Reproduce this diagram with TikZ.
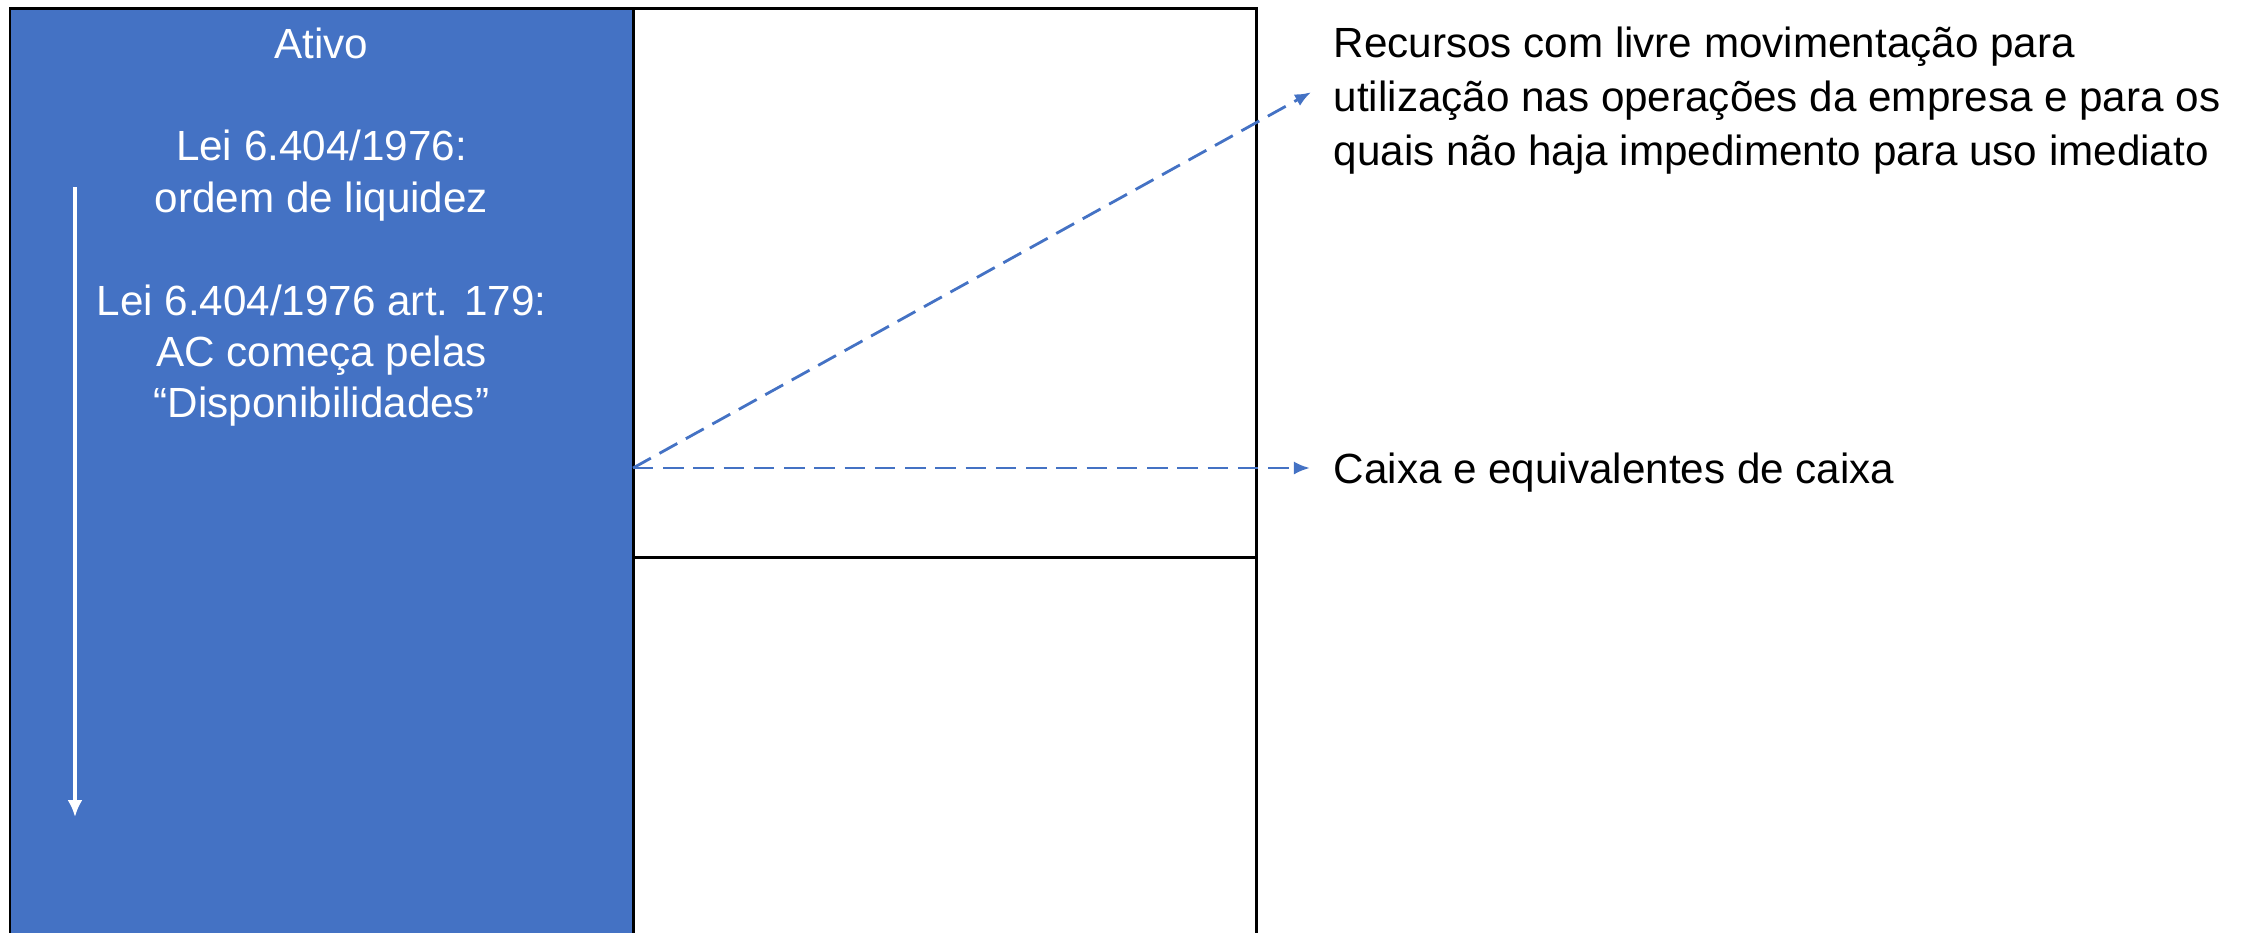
\documentclass[tikz,border=0pt]{standalone}
\usepackage{fontspec}
\setmainfont{Liberation Sans}
\usetikzlibrary{positioning,arrows.meta}
\definecolor{azul}{HTML}{4472C4}
\begin{document}
\begin{tikzpicture}[x=0.01cm,y=-0.01cm,
		conta/.style={draw=black, line width=0.85pt, inner sep=0pt, outer sep=0pt, minimum width=6.23cm},
		texto/.style={font=\fontsize{12}{14.6}\selectfont, inner sep=0pt},
		seta/.style={azul, line width=0.8pt, dash pattern=on 5.8pt off 2.8pt, -{Latex[length=0.16cm,width=0.13cm]}}]
			\useasboundingbox (0,0) rectangle (2257,932);
			\node (ativo) [conta, fill=azul, minimum height=10cm, anchor=north west] at (10,8) {};
			\node (topo) [conta, minimum height=5.49cm, anchor=north west] at (ativo.north east) {};
			\node (base) [conta, minimum height=4cm, below=0pt of topo] {};
			\node (ativotxt) [texto, text=white, align=center, anchor=north] at (321.5,27) {Ativo\\[14.6pt]Lei 6.404/1976:\\ordem de liquidez\\[14.6pt]Lei 6.404/1976 art. 179:\\AC começa pelas\\“Disponibilidades”};
			\node (recursos) [texto, font=\fontsize{12}{15.3}\selectfont, align=left, anchor=base west] at (1333,165) {Recursos com livre movimentação para\\utilização nas operações da empresa e para os\\quais não haja impedimento para uso imediato};
			\node (caixa) [texto, anchor=base west] at (1333,483) {Caixa e equivalentes de caixa};
			\coordinate (liqA) at (75,187);
			\coordinate (liqB) at (75,817);
			\coordinate (src) at (633,468);
			\draw [white, line width=0.9pt, -{Latex[length=0.17cm,width=0.15cm]}] (liqA) -- (liqB);
			\draw [seta] (src) -- ([xshift=-0.22cm, yshift=0.08cm]recursos.west);
			\draw [seta, shorten >=0.23cm] (src) -- (src -| caixa.west);
		\end{tikzpicture}
\end{document}
